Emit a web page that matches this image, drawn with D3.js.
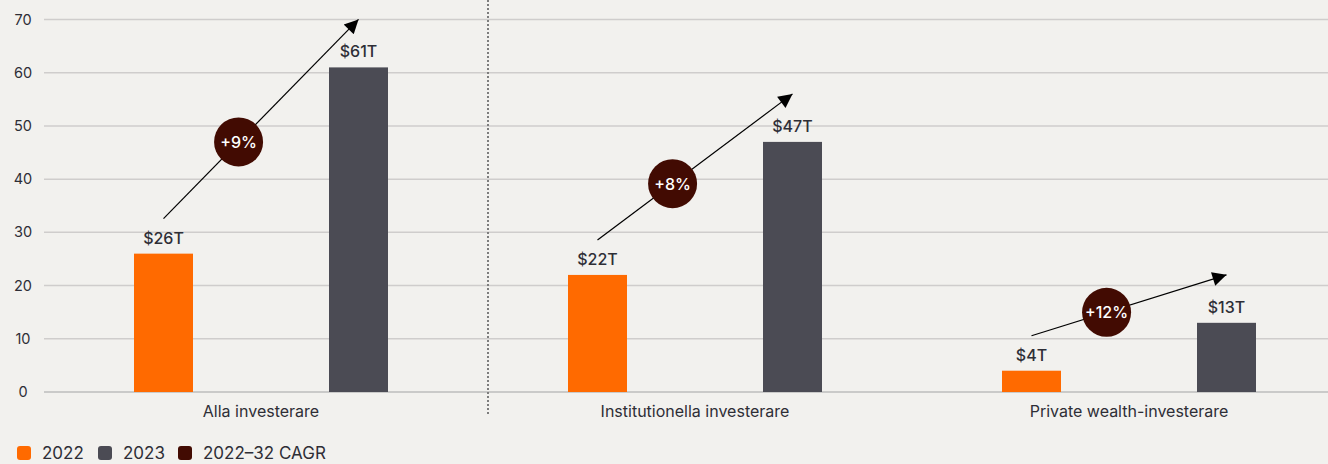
<!DOCTYPE html>
<html>
<head>
<meta charset="utf-8">
<script src="https://cdn.jsdelivr.net/npm/d3@7"></script>
<style>
  html, body { margin: 0; padding: 0; background: #f2f1ee; }
  svg { display: block; font-family: Inter, "Noto Sans", sans-serif; }
</style>
</head>
<body>
<div id="chart"></div>
<script>
const w = 1328;
const h = 464;

// data
const categories = ["Alla investerare", "Institutionella investerare", "Private wealth-investerare"];
const years = ["2022", "2023"];
const values2022 = [26, 22, 4];
const values2023 = [61, 47, 13];
const cagr = ["+9%", "+8%", "+12%"];
const yTicks = [0, 10, 20, 30, 40, 50, 60, 70];
const legendLabels = ["2022", "2023", "2022\u201332 CAGR"];

const colors = { "2022": "#ff6a00", "2023": "#4b4b54", cagr: "#420b02" };
const barW = 59;

const svg = d3.select("#chart")
    .append("svg")
    .attr("width", w)
    .attr("height", h);

svg.append("rect").attr("width", w).attr("height", h).attr("fill", "#f2f1ee");

const xScale = d3.scaleBand()
    .domain(categories)
    .range([44, 44 + 434 * 3]);

// bar centres inside a group
const inner = d3.scalePoint()
    .domain(years)
    .range([119.5, 314.5]);

const yScale = d3.scaleLinear()
    .domain([0, 70])
    .range([392, 19.5]);

// gridlines
svg.append("g")
    .selectAll("line")
    .data(yTicks)
    .enter()
    .append("line")
    .attr("x1", 44)
    .attr("x2", w)
    .attr("y1", d => yScale(d))
    .attr("y2", d => yScale(d))
    .attr("stroke", d => d == 0 ? "#bdbcbc" : "#cfcdcc")
    .attr("stroke-width", 1.5);

// y tick labels
svg.append("g")
    .selectAll("text")
    .data(yTicks)
    .enter()
    .append("text")
    .attr("x", 23)
    .attr("y", d => yScale(d) + 5)
    .attr("text-anchor", "middle")
    .attr("font-size", 14.5)
    .attr("fill", "#2e2e36")
    .text(d => d);

// divider after first group
svg.append("line")
    .attr("x1", xScale(categories[1]) + 10)
    .attr("x2", xScale(categories[1]) + 10)
    .attr("y1", 0)
    .attr("y2", 414)
    .attr("stroke", "#7d7d7d")
    .attr("stroke-width", 2)
    .attr("stroke-dasharray", "2,2");

const bars = [];
categories.forEach((c, i) => {
    bars.push({ cat: c, year: "2022", value: values2022[i] });
    bars.push({ cat: c, year: "2023", value: values2023[i] });
});

const cx = (c, y) => xScale(c) + inner(y);

svg.append("g")
    .selectAll("rect")
    .data(bars)
    .enter()
    .append("rect")
    .attr("x", d => cx(d.cat, d.year) - barW / 2)
    .attr("y", d => yScale(d.value))
    .attr("width", barW)
    .attr("height", d => yScale(0) - yScale(d.value))
    .attr("fill", d => colors[d.year]);

svg.append("g")
    .selectAll("text")
    .data(bars)
    .enter()
    .append("text")
    .attr("x", d => cx(d.cat, d.year))
    .attr("y", d => yScale(d.value) - 10)
    .attr("text-anchor", "middle")
    .attr("font-size", 16)
    .attr("font-weight", 500)
    .attr("fill", "#2e2e36")
    .text(d => "$" + d.value + "T");

// category labels
svg.append("g")
    .selectAll("text")
    .data(categories)
    .enter()
    .append("text")
    .attr("x", d => xScale(d) + xScale.bandwidth() / 2)
    .attr("y", 417)
    .attr("text-anchor", "middle")
    .attr("font-size", 16)
    .attr("fill", "#2e2e36")
    .text(d => d);

// arrows
svg.append("defs").append("marker")
    .attr("id", "arrow")
    .attr("viewBox", "0 0 10 10")
    .attr("refX", 10)
    .attr("refY", 5)
    .attr("markerWidth", 22)
    .attr("markerHeight", 14)
    .attr("markerUnits", "userSpaceOnUse")
    .attr("orient", "auto")
    .append("path")
    .attr("d", "M0,0 L10,5 L0,10 Z")
    .attr("fill", "#000");

const arrows = categories.map((c, i) => {
    const x1 = cx(c, "2022"), y1 = yScale(values2022[i]) - 35;
    const x2 = cx(c, "2023"), y2 = yScale(values2023[i]) - 48;
    const t = 0.385;
    return { x1, y1, x2, y2, mx: x1 + (x2 - x1) * t, my: y1 + (y2 - y1) * t, label: cagr[i] };
});

const ag = svg.append("g");
ag.selectAll("line")
    .data(arrows)
    .enter()
    .append("line")
    .attr("x1", d => d.x1)
    .attr("y1", d => d.y1)
    .attr("x2", d => d.x2)
    .attr("y2", d => d.y2)
    .attr("stroke", "#000")
    .attr("stroke-width", 1.2)
    .attr("marker-end", "url(#arrow)");

ag.selectAll("circle")
    .data(arrows)
    .enter()
    .append("circle")
    .attr("cx", d => d.mx)
    .attr("cy", d => d.my)
    .attr("r", 24.5)
    .attr("fill", colors.cagr);

ag.selectAll("text")
    .data(arrows)
    .enter()
    .append("text")
    .attr("x", d => d.mx)
    .attr("y", d => d.my + 6)
    .attr("text-anchor", "middle")
    .attr("font-size", 16)
    .attr("font-weight", 500)
    .attr("fill", "#fff")
    .text(d => d.label);

// legend
const legendColors = [colors["2022"], colors["2023"], colors.cagr];
const legendX = [17, 98, 178];
const lg = svg.append("g");
lg.selectAll("rect")
    .data(legendLabels)
    .enter()
    .append("rect")
    .attr("x", (d, i) => legendX[i])
    .attr("y", 446)
    .attr("width", 14)
    .attr("height", 14)
    .attr("rx", 3)
    .attr("fill", (d, i) => legendColors[i]);

lg.selectAll("text")
    .data(legendLabels)
    .enter()
    .append("text")
    .attr("x", (d, i) => legendX[i] + 25)
    .attr("y", 459)
    .attr("font-size", 17)
    .attr("fill", "#2e2e36")
    .text(d => d);
</script>
</body>
</html>
